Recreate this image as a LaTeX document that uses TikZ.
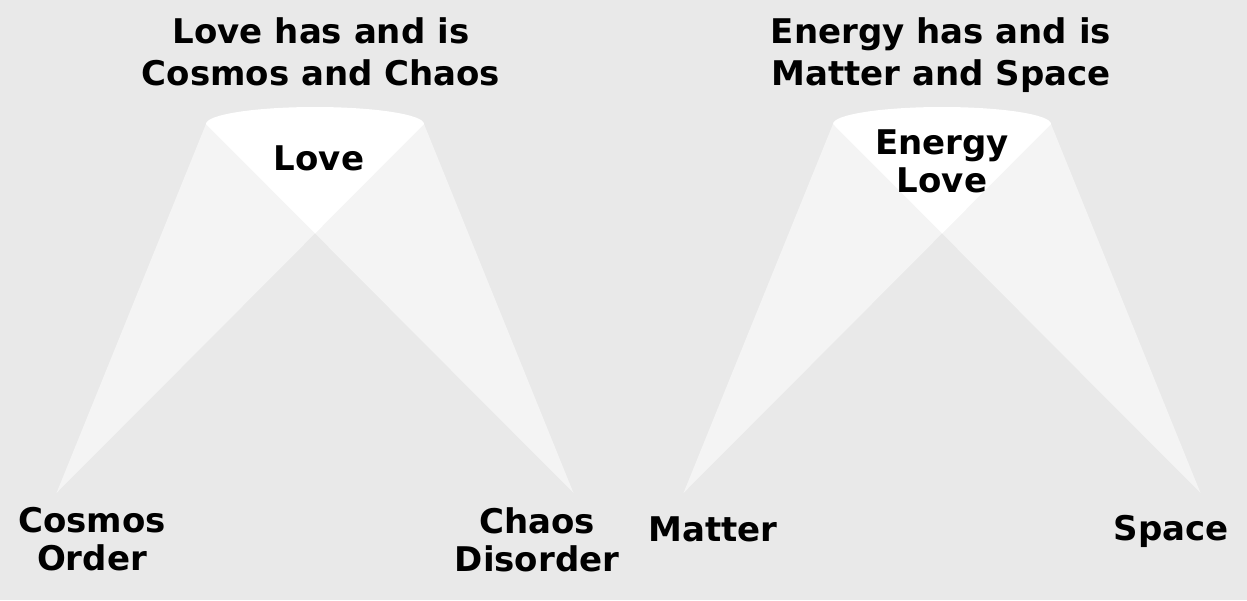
\documentclass[tikz,border=0pt]{standalone}
\usepackage{fontspec}
\setmainfont{DejaVu Sans}
\usepackage{tikz}
\definecolor{hintergrund}{HTML}{E9E9E9}
\definecolor{strahl}{HTML}{F4F4F4}

\begin{document}
\begin{tikzpicture}[x=1pt,y=-1pt,
  titel/.style={font=\fontsize{34}{42}\selectfont\bfseries,align=center,inner sep=0pt,anchor=north},
  schrift/.style={font=\fontsize{34}{38}\selectfont\bfseries,align=center,inner sep=0pt,anchor=north}]
%Hintergrund in Pixelmass 1247x600
  \useasboundingbox[fill=hintergrund] (0,0) rectangle (1247,600);
  \pgfmathsetmacro{\breite}{109}
  \pgfmathsetmacro{\hoehe}{17}
  \pgfmathsetmacro{\spitze}{258.5}
%Zwei Kegel: Mitte bei 315 und 942
\foreach \mx/\name in {315/love,942/energy}{
  \coordinate (\name-l) at (\mx-\breite,124);
  \coordinate (\name-r) at (\mx+\breite,124);
  \coordinate (\name-ul) at (\mx-\spitze,493);
  \coordinate (\name-ur) at (\mx+\spitze,493);
  \fill[strahl] (\name-l) -- (\name-r) -- (\name-ul) -- cycle;
  \fill[strahl] (\name-l) -- (\name-r) -- (\name-ur) -- cycle;
  \fill[white] (\name-l) -- (\name-r) -- (intersection of \name-l--\name-ur and \name-r--\name-ul) -- cycle;
  \fill[white] (\name-l) arc[start angle=180,end angle=0,x radius=\breite pt,y radius=\hoehe pt] -- cycle;
}
\node[titel] (titelLove) at (321,17) {Love has and is\\Cosmos and Chaos};
\node[titel] (titelEnergy) at (941,17) {Energy has and is\\Matter and Space};
\node[schrift] (kernLove) at (319,146) {Love};
\node[schrift] (kernEnergy) at (942,130) {Energy\\Love};
\node[schrift] (cosmos) at (92,507) {Cosmos\\Order};
\node[schrift] (chaos) at (537,507) {Chaos\\Disorder};
\node[schrift] (matter) at (713,517) {Matter};
\node[schrift] (space) at (1171,515) {Space};
\end{tikzpicture}
\end{document}
